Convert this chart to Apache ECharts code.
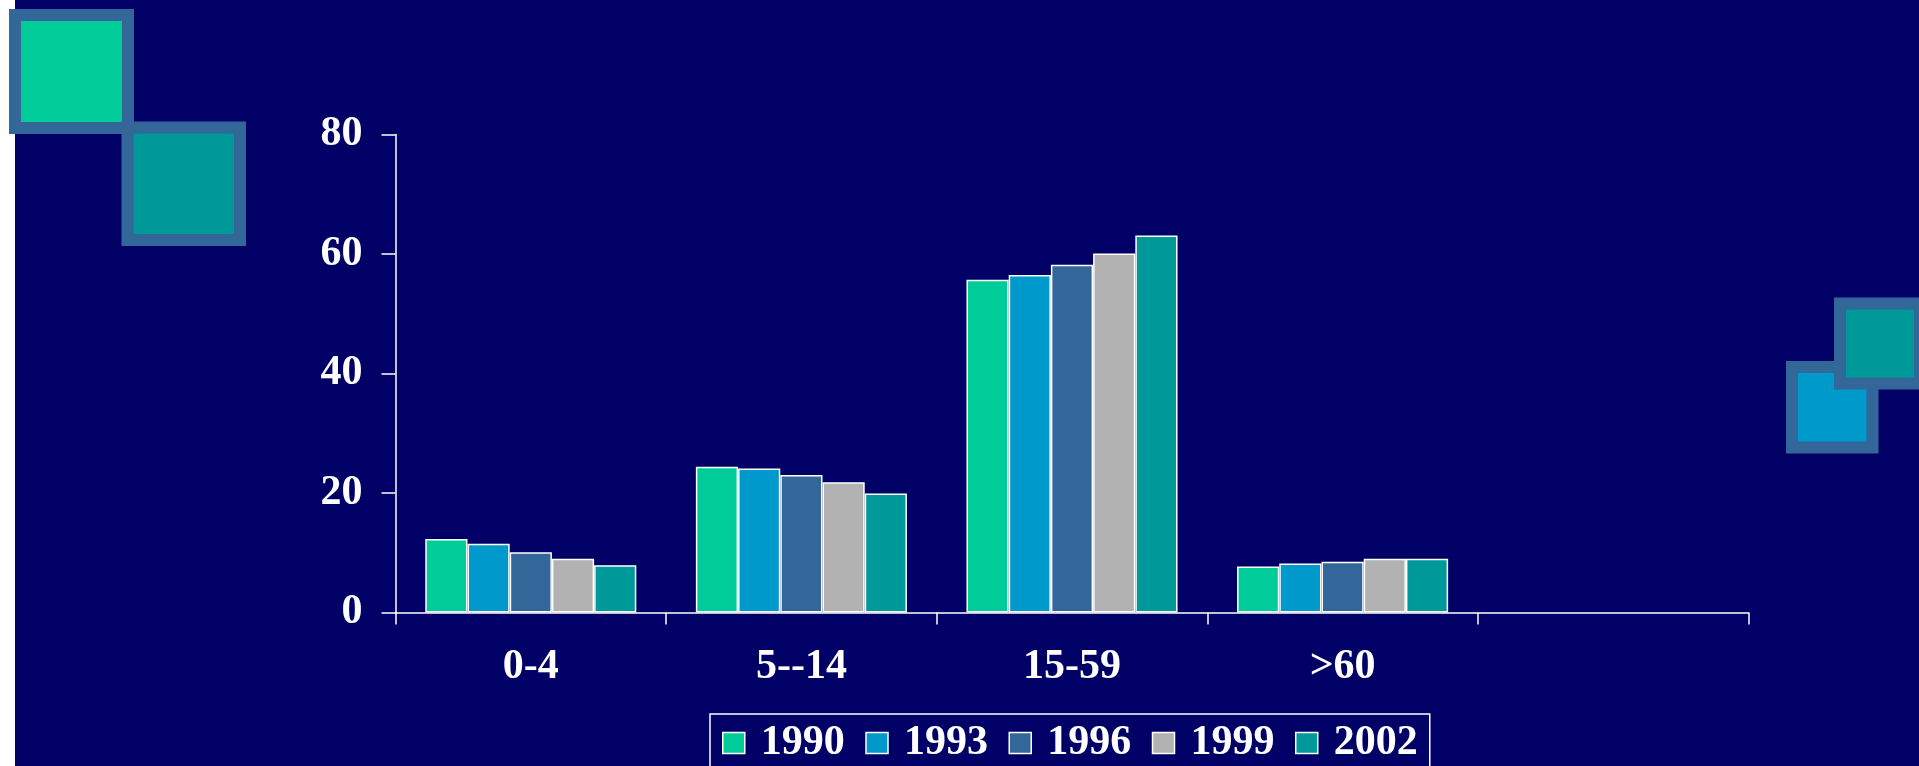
<!DOCTYPE html>
<html>
<head>
<meta charset="utf-8">
<script src="https://cdn.jsdelivr.net/npm/echarts@6/dist/echarts.min.js"></script>
<style>
html,body{margin:0;padding:0;background:#000066;}
#chart{width:1919px;height:766px;}
</style>
</head>
<body>
<div id="chart"></div>
<script>
const categories = ['0-4', '5--14', '15-59', '>60', ''];
const seriesNames = ['1990', '1993', '1996', '1999', '2002'];
const v1990 = [12.3, 24.4, 55.7, 7.7];
const v1993 = [11.5, 24.1, 56.5, 8.2];
const v1996 = [10.1, 23.0, 58.2, 8.5];
const v1999 = [9.0, 21.8, 60.1, 9.0];
const v2002 = [7.9, 19.9, 63.1, 9.0];
const yTicks = [0, 20, 40, 60, 80];
const colors = ['#00CC99', '#0099CC', '#336699', '#B2B2B2', '#009999'];
const values = [v1990, v1993, v1996, v1999, v2002];

const font = '"Liberation Serif", "Times New Roman", serif';

function decoSquare(x, y, size, fill, z) {
  const b = 12;
  return {
    type: 'rect', z: z,
    shape: { x: x + b / 2, y: y + b / 2, width: size - b, height: size - b },
    style: { fill: fill, stroke: '#336699', lineWidth: b }
  };
}

const chart = echarts.init(document.getElementById('chart'));
chart.setOption({
  backgroundColor: '#000066',
  animation: false,
  graphic: [
    { type: 'rect', z: 1, shape: { x: 0, y: 0, width: 15, height: 766 }, style: { fill: '#FFFFFF' } },
    decoSquare(9, 9, 125, '#00CC99', 2),
    decoSquare(121.5, 121.5, 124.5, '#009999', 3),
    decoSquare(1786, 361, 92.5, '#0099CC', 2),
    decoSquare(1834, 297.5, 92, '#009999', 3)
  ],
  grid: { left: 395.5, right: 170.5, top: 134.5, bottom: 153.5, containLabel: false },
  legend: {
    data: seriesNames,
    left: 710, top: 714,
    orient: 'horizontal',
    width: 718,
    padding: [8, 12, 12, 12],
    borderColor: '#FFFFFF', borderWidth: 1.5,
    itemWidth: 22, itemHeight: 21, itemGap: 20.5,
    icon: 'rect',
    itemStyle: { borderColor: '#FFFFFF', borderWidth: 1.5 },
    textStyle: { color: '#FFFFFF', fontFamily: font, fontWeight: 'bold', fontSize: 42, lineHeight: 42, padding: [0, 0, 0, 11] }
  },
  xAxis: {
    type: 'category',
    data: categories,
    axisLine: { lineStyle: { color: '#FFFFFF', width: 1.5 } },
    axisTick: { show: true, length: 12, lineStyle: { color: '#FFFFFF', width: 1.5 } },
    axisLabel: { color: '#FFFFFF', fontFamily: font, fontWeight: 'bold', fontSize: 42, lineHeight: 42, margin: 34 },
    splitLine: { show: false }
  },
  yAxis: {
    type: 'value',
    min: yTicks[0], max: yTicks[yTicks.length - 1], interval: yTicks[1] - yTicks[0],
    axisLine: { show: true, lineStyle: { color: '#FFFFFF', width: 1.5 } },
    axisTick: { show: true, length: 14, lineStyle: { color: '#FFFFFF', width: 1.5 } },
    axisLabel: { color: '#FFFFFF', fontFamily: font, fontWeight: 'bold', fontSize: 42, margin: 33 },
    splitLine: { show: false }
  },
  series: seriesNames.map((name, i) => ({
    name: name,
    type: 'bar',
    data: values[i],
    barGap: '0%',
    barCategoryGap: '22%',
    itemStyle: { color: colors[i], borderColor: '#FFFFFF', borderWidth: 1.5 }
  }))
});
</script>
</body>
</html>
